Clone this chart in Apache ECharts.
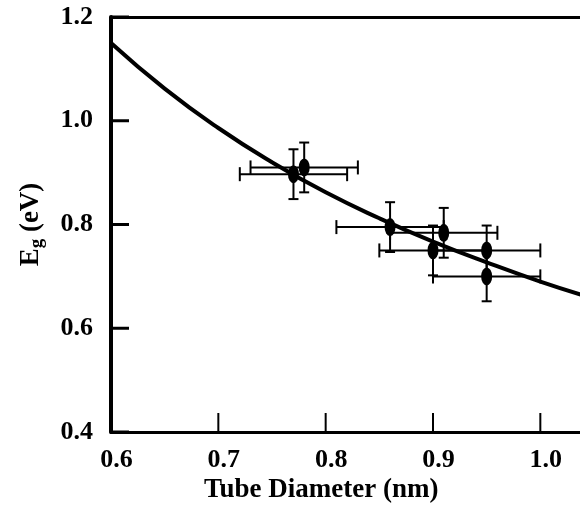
<!DOCTYPE html>
<html>
<head>
<meta charset="utf-8">
<script src="https://cdn.jsdelivr.net/npm/echarts@6/dist/echarts.min.js"></script>
<style>
html,body{margin:0;padding:0;background:#fff;}
#chart{width:580px;height:506px;}
</style>
</head>
<body>
<div id="chart"></div>
<script>
// Measured points (tube diameter nm, band gap eV) with error bars
const diameters = [0.77, 0.78, 0.86, 0.91, 0.90, 0.95, 0.95];
const gaps      = [0.897, 0.910, 0.795, 0.784, 0.750, 0.750, 0.700];
const xErrors   = [0.05, 0.05, 0.05, 0.05, 0.05, 0.05, 0.05];
const yErrors   = [0.048, 0.048, 0.048, 0.048, 0.048, 0.048, 0.048];

// Fit curve
const curveD = [0.60, 0.65, 0.70, 0.75, 0.80, 0.85, 0.90, 0.95, 1.00, 1.05];
const curveE = [1.150, 1.062, 0.986, 0.920, 0.862, 0.812, 0.767, 0.727, 0.690, 0.657];

// Axis ticks
const xTicks = [0.6, 0.7, 0.8, 0.9, 1.0];
const yTicks = [0.4, 0.6, 0.8, 1.0, 1.2];

const FONT = 'Liberation Serif';
const X_MIN = 0.6, X_MAX = 1.05, Y_MIN = 0.4, Y_MAX = 1.2;
const chart = echarts.init(document.getElementById('chart'), null, {renderer: 'canvas'});

const pts = diameters.map((d, i) => [d, gaps[i], xErrors[i], yErrors[i]]);
const curve = curveD.map((d, i) => [d, curveE[i]]);
// tick marks: [x, y, kind] kind 0 = y-axis tick, 1 = x-axis tick
const tickData = yTicks.map(v => [X_MIN, v, 0]).concat(xTicks.map(v => [v, Y_MIN, 1]));

function onTick(v, ticks) {
  return ticks.some(t => Math.abs(t - v) < 1e-6);
}

chart.setOption({
  animation: false,
  backgroundColor: '#fff',
  grid: {left: 111, top: 17, height: 415, width: 483, containLabel: false, outerBoundsMode: 'none'},
  xAxis: [{
    type: 'value', min: X_MIN, max: X_MAX, interval: 0.1, position: 'bottom',
    axisLine: {show: true, lineStyle: {color: '#000', width: 3}},
    axisTick: {show: false},
    splitLine: {show: false},
    axisLabel: {
      margin: 15, color: '#000', fontFamily: FONT, fontWeight: 'bold', fontSize: 26,
      padding: [0, 0, 0, 11],
      formatter: v => onTick(v, xTicks) ? v.toFixed(1) : ''
    }
  }, {
    type: 'value', min: X_MIN, max: X_MAX, position: 'top',
    axisLine: {show: true, lineStyle: {color: '#000', width: 3}},
    axisTick: {show: false}, axisLabel: {show: false}, splitLine: {show: false}
  }],
  yAxis: {
    type: 'value', min: Y_MIN, max: Y_MAX, interval: 0.2,
    axisLine: {show: true, lineStyle: {color: '#000', width: 4}},
    axisTick: {show: false},
    splitLine: {show: false},
    axisLabel: {
      margin: 18, color: '#000', fontFamily: FONT, fontWeight: 'bold', fontSize: 26,
      formatter: v => onTick(v, yTicks) ? v.toFixed(1) : ''
    },
    name: '{e|E}{s|g}{e| (eV)}',
    nameLocation: 'middle', nameRotate: 90, nameGap: 64,
    nameTextStyle: {
      rich: {
        e: {fontFamily: FONT, fontWeight: 'bold', fontSize: 27, color: '#000'},
        s: {fontFamily: FONT, fontWeight: 'bold', fontSize: 19, color: '#000', padding: [13, 0, 0, 0]}
      }
    }
  },
  graphic: [{
    type: 'text', left: 204, top: 477,
    style: {text: 'Tube Diameter (nm)', fontFamily: FONT, fontWeight: 'bold', fontSize: 27, fill: '#000'}
  }],
  series: [{
    type: 'custom',
    data: pts,
    renderItem: function (params, api) {
      const x = api.value(0), y = api.value(1), ex = api.value(2), ey = api.value(3);
      const l = api.coord([x - ex, y]), r = api.coord([x + ex, y]);
      const t = api.coord([x, y + ey]), b = api.coord([x, y - ey]);
      const st = {stroke: '#000', lineWidth: 2};
      const hc = 7, vc = 5;
      return {
        type: 'group',
        children: [
          {type: 'line', shape: {x1: l[0], y1: l[1], x2: r[0], y2: r[1]}, style: st},
          {type: 'line', shape: {x1: l[0], y1: l[1] - hc, x2: l[0], y2: l[1] + hc}, style: st},
          {type: 'line', shape: {x1: r[0], y1: r[1] - hc, x2: r[0], y2: r[1] + hc}, style: st},
          {type: 'line', shape: {x1: t[0], y1: t[1], x2: b[0], y2: b[1]}, style: st},
          {type: 'line', shape: {x1: t[0] - vc, y1: t[1], x2: t[0] + vc, y2: t[1]}, style: st},
          {type: 'line', shape: {x1: b[0] - vc, y1: b[1], x2: b[0] + vc, y2: b[1]}, style: st}
        ]
      };
    },
    z: 2
  }, {
    // inward tick marks on both axes
    type: 'custom',
    data: tickData,
    renderItem: function (params, api) {
      const p = api.coord([api.value(0), api.value(1)]);
      const kind = api.value(2);
      if (kind === 0) {
        return {type: 'rect', shape: {x: p[0], y: p[1] - 1.5, width: 18, height: 3}, style: {fill: '#000'}};
      }
      return {type: 'rect', shape: {x: p[0] - 1, y: p[1] - 19, width: 2, height: 19}, style: {fill: '#000'}};
    },
    silent: true,
    z: 5
  }, {
    type: 'scatter',
    data: pts.map(p => [p[0], p[1]]),
    symbol: 'path://M5,0 A5,9 0 1,1 5,18 A5,9 0 1,1 5,0 Z',
    symbolSize: [11, 18],
    symbolKeepAspect: false,
    itemStyle: {color: '#000', opacity: 1},
    z: 3
  }, {
    type: 'line',
    data: curve,
    smooth: true,
    showSymbol: false,
    lineStyle: {color: '#000', width: 4},
    z: 4
  }]
});
</script>
</body>
</html>
